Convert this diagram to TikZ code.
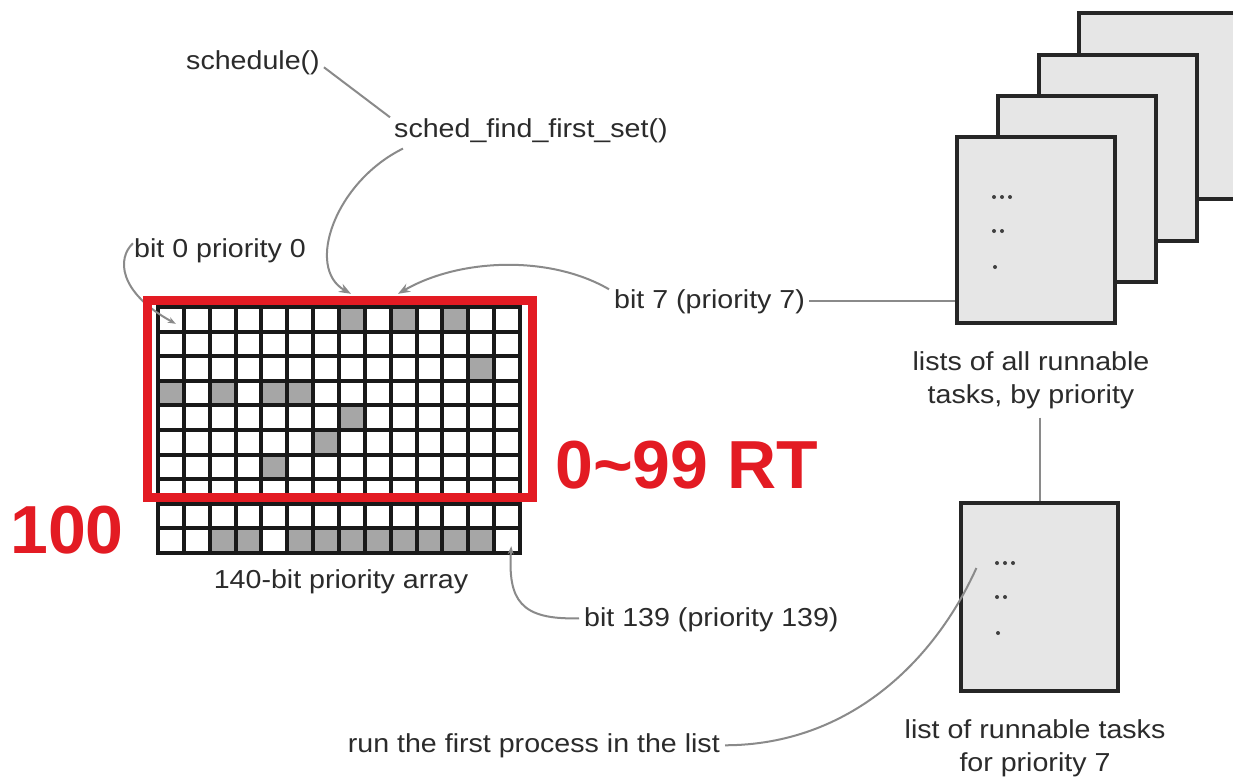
\documentclass[tikz,border=0pt]{standalone}
\usepackage{fontspec}
\setmainfont{Liberation Sans}[FakeStretch=1.1]
\newfontfamily\bigred{Liberation Sans}
\usetikzlibrary{arrows.meta}
\definecolor{txt}{HTML}{2B2B2B}
\definecolor{conncol}{HTML}{8A8A8A}
\definecolor{redm}{HTML}{E31B23}
\definecolor{pagefill}{HTML}{E6E6E6}
\definecolor{cellgray}{HTML}{A6A6A6}
\begin{document}
\begin{tikzpicture}[x=1pt,y=-1pt,
  lbl/.style={font=\fontsize{26}{33}\selectfont, text=txt, inner sep=0pt},
  conn/.style={draw=conncol, line width=2pt},
  arr/.style={conn, -{Stealth[length=12pt,width=9pt]}},
  arrsmall/.style={conn, -{Stealth[length=8pt,width=6pt]}},
  page/.style={draw=black!85, fill=pagefill, line width=3.2pt, minimum width=158pt, minimum height=186pt, inner sep=0pt},
  dotmark/.style={circle, fill=black!75, inner sep=0pt, minimum size=4pt},
  rt/.style={font=\bigred\bfseries\fontsize{68}{68}\selectfont, text=redm, inner sep=0pt},
  gridln/.style={line width=4pt, black!90, line cap=rect}
]
\fill[white] (0,0) rectangle (1233,777);
\useasboundingbox (0,0) rectangle (1233,777);

% grid
\node[inner sep=0pt, minimum width=362pt, minimum height=246pt] (grid) at (339,430) {};
\foreach \c/\r in {7/0,9/0,11/0,12/2,0/3,2/3,4/3,5/3,7/4,6/5,4/6,2/9,3/9,5/9,6/9,7/9,8/9,9/9,10/9,11/9,12/9}
  \fill[cellgray] (158+\c*25.857, 307+\r*24.6) rectangle ++(25.857,24.6);
\foreach \c [evaluate=\c as \xx using 158+\c*25.857] in {0,...,14}
  \draw[gridln] (\xx,307) -- (\xx,553);
\foreach \r [evaluate=\r as \yy using 307+\r*24.6] in {0,...,10}
  \draw[gridln] (158,\yy) -- (520,\yy);

% labels
\node[lbl, anchor=base west] (sched) at (186,69) {schedule()};
\node[lbl, anchor=base west] (sfs) at (394,137) {sched\_find\_first\_set()};
\node[lbl, anchor=base west] (bit0) at (134,257) {bit 0 priority 0};
\node[lbl, anchor=base west] (bit7) at (614,308) {bit 7 (priority 7)};
\node[lbl, anchor=base] (arrlbl) at (341,588) {140-bit priority array};
\node[lbl, anchor=base west] (bit139) at (584,626) {bit 139 (priority 139)};
\node[lbl, anchor=base east] (run) at (720,752) {run the first process in the list};
\node[lbl, align=center, anchor=north] (lists) at (1031,351) {lists of all runnable\\tasks, by priority};
\node[lbl, align=center, anchor=north] (list7) at (1035,719) {list of runnable tasks\\for priority 7};

% pages
\node[page] (p4) at (1158,106) {};
\node[page] (p3) at (1118,148) {};
\node[page] (p2) at (1077,189) {};
\node[page] (p1) at (1036,230) {};
\node[dotmark] (a1) at (994,197) {};
\node[dotmark] (a2) at (1002,197) {};
\node[dotmark] (a3) at (1010,197) {};
\node[dotmark] (a4) at (994,231) {};
\node[dotmark] (a5) at (1002,231) {};
\node[dotmark] (a6) at (995,267) {};

\node[page, minimum width=157pt, minimum height=188pt] (bot) at (1039.5,597) {};
\node[dotmark] (b1) at (997,563) {};
\node[dotmark] (b2) at (1005,563) {};
\node[dotmark] (b3) at (1013,563) {};
\node[dotmark] (b4) at (997,597) {};
\node[dotmark] (b5) at (1005,597) {};
\node[dotmark] (b6) at (998,633) {};

% connectors
\draw[conn] ([shift={(4,5)}]sched.east) -- ([shift={(-4,-13)}]sfs.west);
\draw[arr] ([shift={(9,6)}]sfs.south west) .. controls (335,182) and (305,268) .. ([shift={(12,-13)}]grid.north);
\draw[arr] ([shift={(-5,-12)}]bit7.west) .. controls (550,255) and (460,258) .. ([shift={(59,-13)}]grid.north);
\draw[conn] ([xshift=4pt]bit7.east) -- (bit7.east -| p1.west);
\draw[arrsmall] ([shift={(-1,-7)}]bit0.west) .. controls (117,258) and (118,292) .. ([shift={(18,17)}]grid.north west);
\draw[arrsmall] ([shift={(-5,-1)}]bit139.west) .. controls (520,620) and (508,600) .. ([shift={(-9,-7)}]grid.south east);
\draw[conn] ([xshift=5pt]run.east) .. controls (850,745) and (935,660) .. ([shift={(17,-29)}]bot.west);
\draw[conn] ([yshift=-9pt]bot.north |- lists.south) -- (bot.north);

% red overlay
\draw[redm, line width=9pt] (147,300) rectangle (532,497.5);
\node[rt, anchor=base west] (rtl) at (555,488) {0\textasciitilde 99 RT};
\node[rt, anchor=base west] (hundred) at (10,553) {100};
\end{tikzpicture}
\end{document}
